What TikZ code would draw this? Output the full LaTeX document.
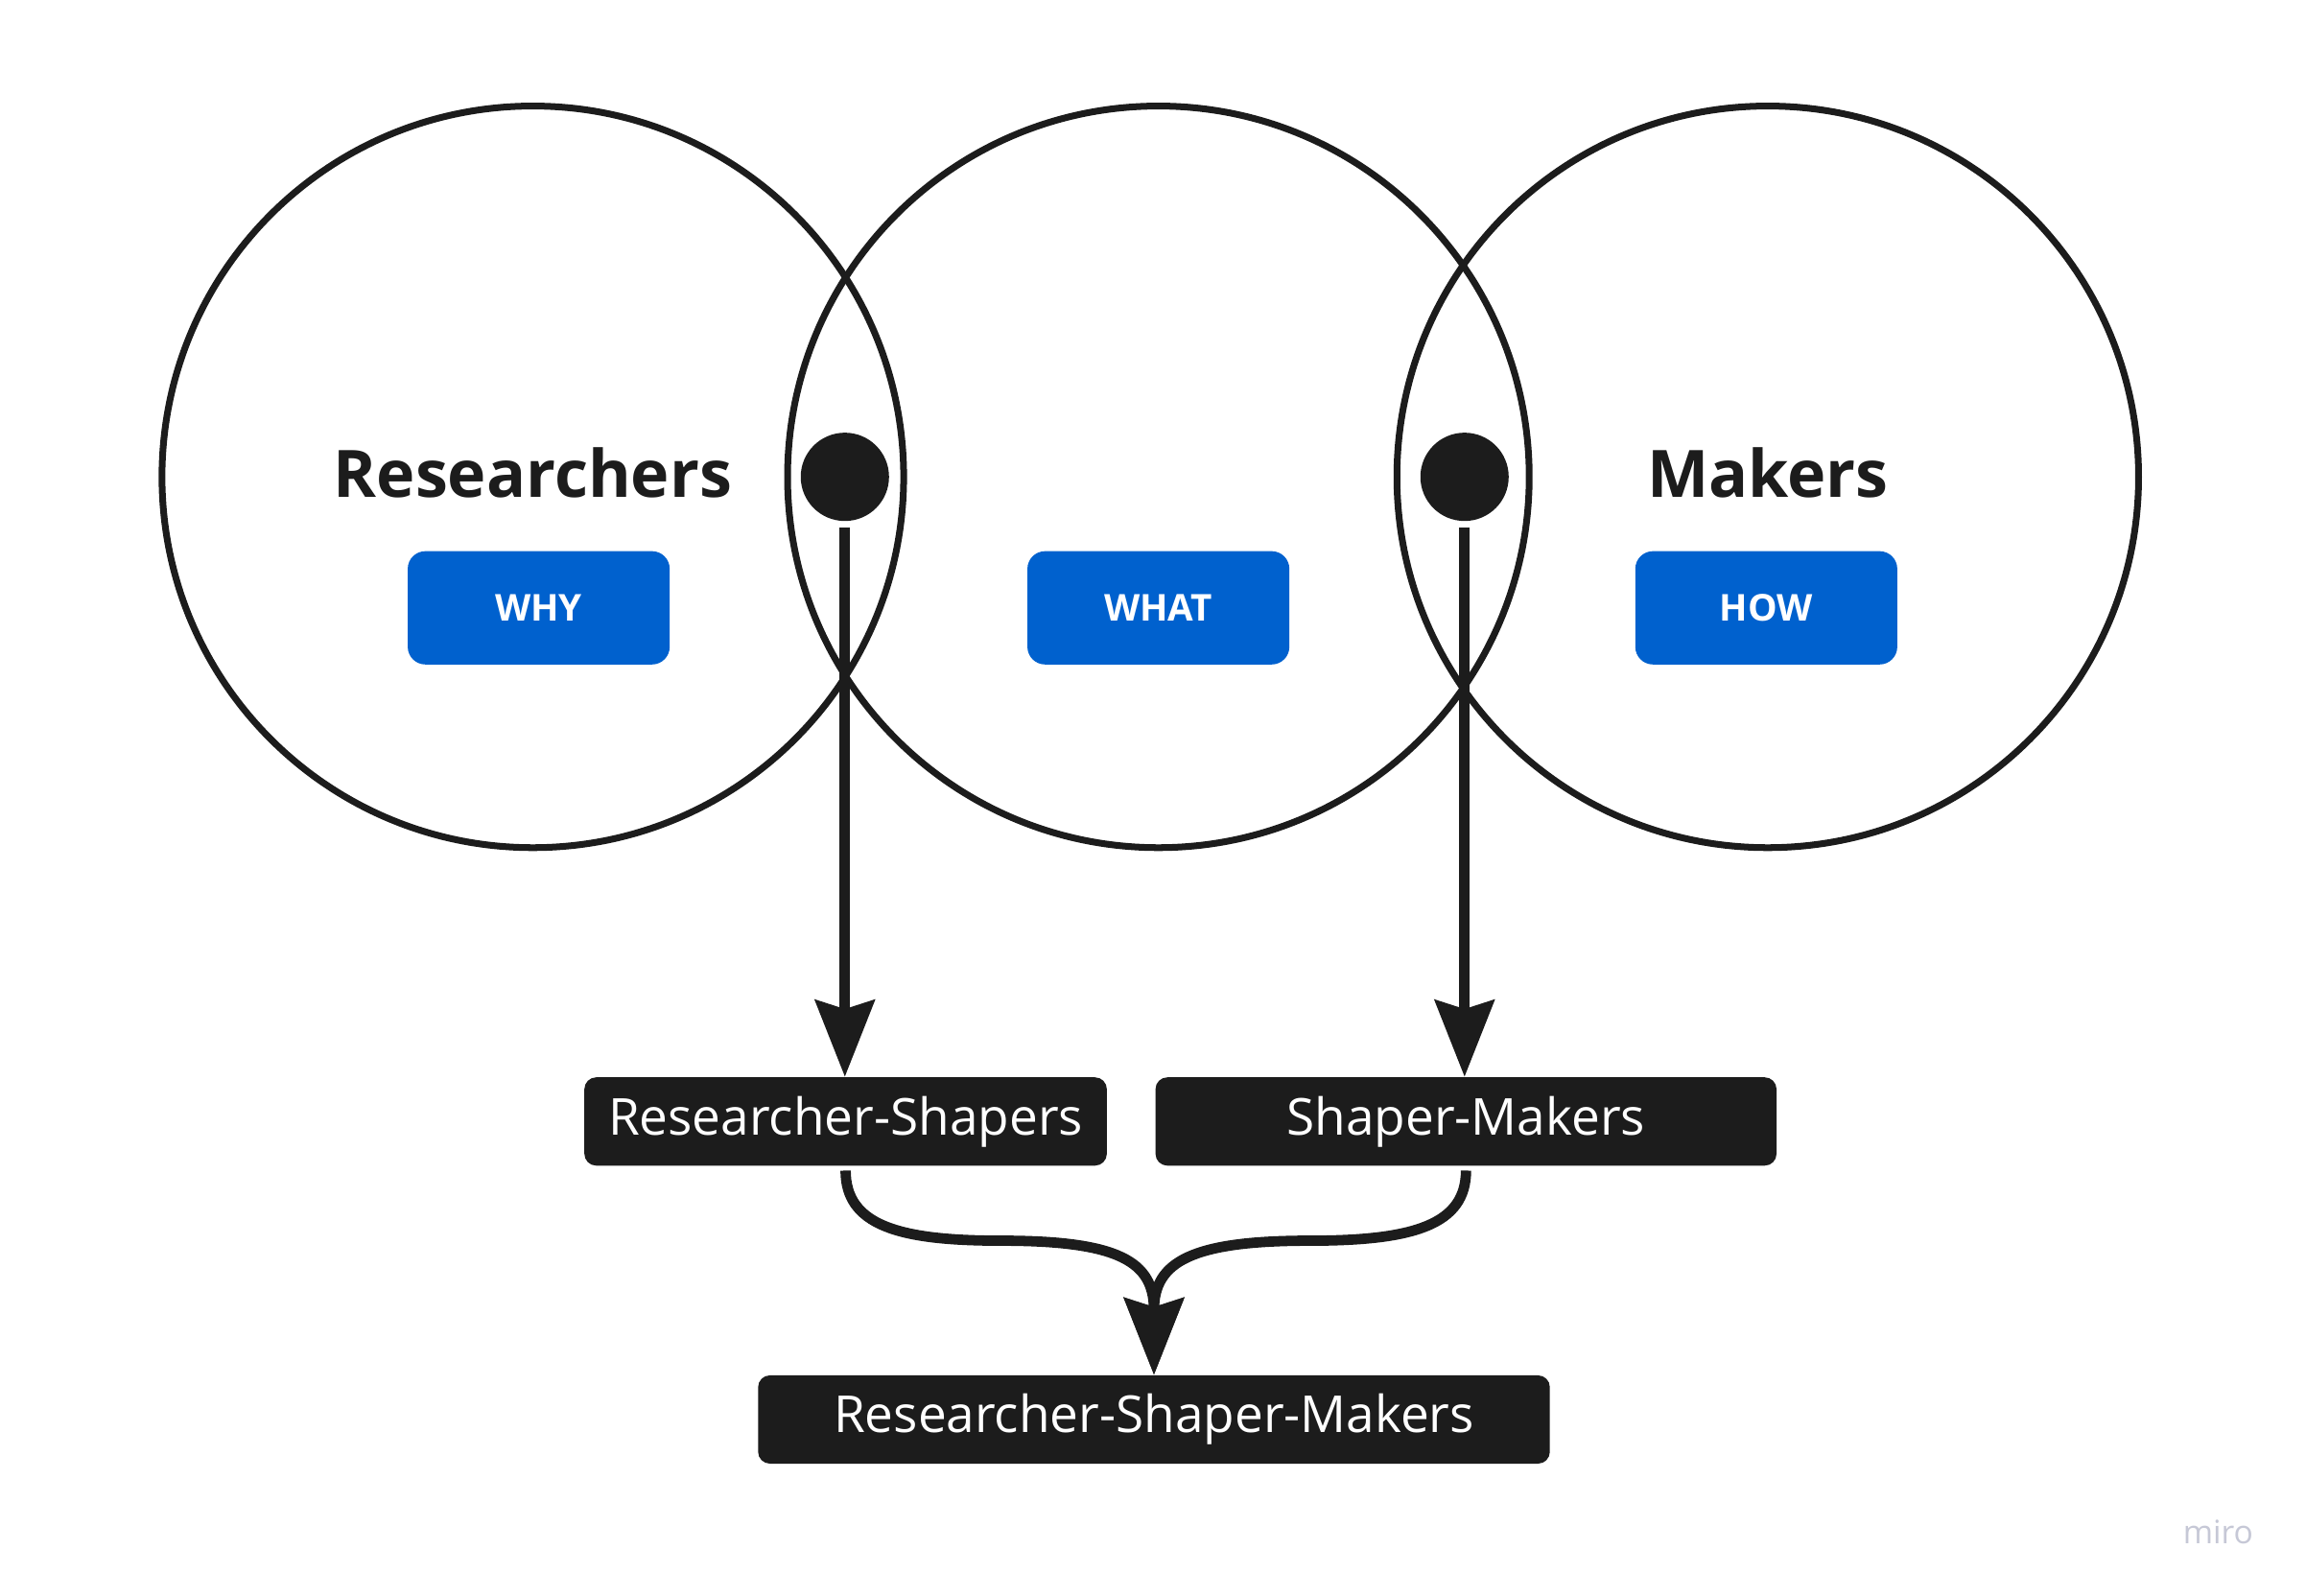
\documentclass[tikz,border=0pt]{standalone}
\usepackage{fontspec}
\setmainfont{Open Sans}
\usetikzlibrary{arrows.meta,positioning}
\definecolor{ink}{HTML}{1C1C1C}
\definecolor{miroblue}{HTML}{0061CE}
\definecolor{mirogray}{HTML}{C6C8D6}

\begin{document}
\begin{tikzpicture}[x=0.02cm, y=-0.02cm,
        ring/.style={draw=ink, line width=2.6pt, circle, minimum size=10.08cm, inner sep=0pt},
        hub/.style={fill=ink, circle, minimum size=1.2cm, inner sep=0pt},
        title/.style={text=ink, font=\fontsize{25.3}{30}\selectfont\bfseries},
        tag/.style={fill=miroblue, rounded corners=0.24cm, minimum width=3.56cm,
            minimum height=1.54cm, text=white, font=\fontsize{14.3}{17}\selectfont\bfseries},
        blend/.style={fill=ink, rounded corners=0.16cm, minimum height=1.2cm,
            text=white, font=\fontsize{19.7}{24}\selectfont},
        flow/.style={draw=ink, line width=4pt,
            -{Stealth[length=29.6pt, width=22.8pt, inset=3.4pt]}}]

        \useasboundingbox (0,0) rectangle (1566.7,1083.8);

        \foreach \x/\n in {362/researchers, 787/shapers, 1201/makers}
        \node[ring] (\n) at (\x,324) {};

        \node[title] (rtitle) at (362,321) {Researchers};
        \node[title] (mtitle) at (1201,321) {Makers};

        \node[tag] (why) at (366,413) {WHY};
        \node[tag] (what) at (787,413) {WHAT};
        \node[tag] (how) at (1200,413) {HOW};

        \node[hub] (rsdot) at (574,324) {};
        \node[hub] (smdot) at (995,324) {};

        \node[blend, minimum width=7.1cm] (rs) at (574.5,762) {Researcher-Shapers};
        \node[blend, minimum width=8.44cm] (sm) at (996,762) {Shaper-Makers};
        \node[blend, minimum width=10.76cm] (rsm) at (784,964.5) {Researcher-Shaper-Makers};

        \draw[flow, shorten <=0.08cm] (rsdot.south) -- (rsdot.south |- rs.north);
        \draw[flow, shorten <=0.08cm] (smdot.south) -- (smdot.south |- sm.north);

        \coordinate (lbend) at (680,843);
        \coordinate (rbend) at (890,843);
        \draw[flow, shorten <=0.06cm] (rs.south) .. controls +(0,40) and +(-70,0) .. (lbend)
            .. controls +(80,0) and +(0,-77) .. (rsm.north);
        \draw[flow, shorten <=0.06cm] (sm.south) .. controls +(0,40) and +(70,0) .. (rbend)
            .. controls +(-80,0) and +(0,-77) .. (rsm.north);

        \node[text=mirogray, font=\fontsize{12.5}{15}\selectfont] (miro) at (1507,1041) {miro};

    \end{tikzpicture}
\end{document}
